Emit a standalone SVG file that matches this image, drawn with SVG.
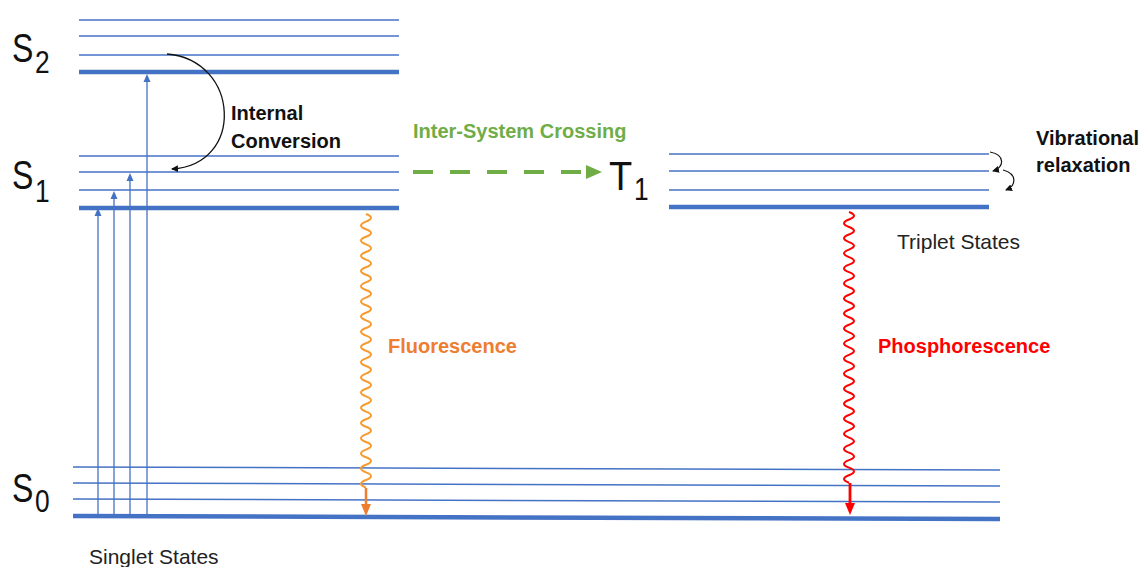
<svg xmlns="http://www.w3.org/2000/svg" width="1148" height="567" viewBox="0 0 1148 567">
<style>
.thin{stroke:#4472C4;stroke-width:1.5;fill:none}
.thick{stroke:#4472C4;stroke-width:4.5;fill:none}
.exc{stroke:#4472C4;stroke-width:1.3;fill:none}
.lbl{font-family:"Liberation Sans",Arial,sans-serif;font-weight:bold;font-size:20px}
.reg{font-family:"Liberation Sans",Arial,sans-serif;font-size:21px;fill:#222}
.big{font-family:"Liberation Sans",Arial,sans-serif;font-size:40px;fill:#111}
.sub{font-family:"Liberation Sans",Arial,sans-serif;font-size:31px;fill:#111}
</style>
<defs>
<marker id="blk" markerWidth="8" markerHeight="8" refX="6" refY="4" orient="auto" markerUnits="userSpaceOnUse">
<path d="M0,0.5 L7,4 L0,7.5 Z" fill="#111"/>
</marker>
</defs>
<rect width="1148" height="567" fill="#fff"/>
<g id="S2">
<line class="thin" x1="79" y1="20" x2="399" y2="20"/>
<line class="thin" x1="79" y1="36" x2="399" y2="36"/>
<line class="thin" x1="79" y1="55" x2="399" y2="55"/>
<line class="thick" x1="79" y1="72" x2="399" y2="72"/>
<text class="big" transform="translate(12,62) scale(0.8,1)">S</text><text class="sub" transform="translate(35,73) scale(0.85,1)">2</text>
</g>
<g id="S1">
<line class="thin" x1="79" y1="156" x2="399" y2="156"/>
<line class="thin" x1="79" y1="172" x2="399" y2="172"/>
<line class="thin" x1="79" y1="190" x2="399" y2="190"/>
<line class="thick" x1="79" y1="208" x2="399" y2="208"/>
<text class="big" transform="translate(12,189) scale(0.8,1)">S</text><text class="sub" transform="translate(35,202) scale(0.85,1)">1</text>
</g>
<g id="S0">
<line class="thin" x1="73" y1="467" x2="1000" y2="470"/>
<line class="thin" x1="73" y1="483" x2="1000" y2="486"/>
<line class="thin" x1="73" y1="499" x2="1000" y2="502"/>
<line class="thick" x1="73" y1="516" x2="1000" y2="519"/>
<text class="big" transform="translate(12,502) scale(0.8,1)">S</text><text class="sub" transform="translate(35,512) scale(0.85,1)">0</text>
<text class="reg" x="89" y="564">Singlet States</text>
</g>
<g id="T1">
<line class="thin" x1="669" y1="154" x2="989" y2="154"/>
<line class="thin" x1="669" y1="171" x2="989" y2="171"/>
<line class="thin" x1="669" y1="190" x2="989" y2="190"/>
<line class="thick" x1="669" y1="207" x2="989" y2="207"/>
<text class="big" transform="translate(609,190) scale(0.95,1)">T</text><text class="sub" transform="translate(634,200) scale(0.85,1)">1</text>
<text class="reg" x="897" y="249">Triplet States</text>
</g>
<g id="connectors">
<g id="excitation">
<line class="exc" x1="98" y1="516" x2="98" y2="214"/>
<polygon points="98,208 94.5,216 101.5,216" fill="#4472C4"/>
<line class="exc" x1="114" y1="516" x2="114" y2="197"/>
<polygon points="114,191 110.5,199 117.5,199" fill="#4472C4"/>
<line class="exc" x1="130" y1="516" x2="130" y2="179"/>
<polygon points="130,173 126.5,181 133.5,181" fill="#4472C4"/>
<line class="exc" x1="147" y1="516" x2="147" y2="80"/>
<polygon points="147,74 143.5,82 150.5,82" fill="#4472C4"/>
</g>
<g id="internal-conversion">
<path d="M167,54 C240,60 245,165 172,169" fill="none" stroke="#111" stroke-width="1.3" marker-end="url(#blk)"/>
<text class="lbl" x="231" y="120" fill="#111">Internal</text>
<text class="lbl" x="231" y="148" fill="#111">Conversion</text>
</g>
<g id="isc">
<line x1="413" y1="172" x2="590" y2="172" stroke="#70AD47" stroke-width="4" stroke-dasharray="20 17"/>
<polygon points="602,172 586,165 586,179" fill="#70AD47"/>
<text class="lbl" x="413" y="138" fill="#70AD47">Inter-System Crossing</text>
</g>
<g id="vibrational-relaxation">
<path d="M990,152 C1006,155 1004,168 993,171" fill="none" stroke="#111" stroke-width="1.2" marker-end="url(#blk)"/>
<path d="M1003,170 C1018,174 1016,186 1006,190" fill="none" stroke="#111" stroke-width="1.2" marker-end="url(#blk)"/>
<text class="lbl" x="1036" y="145" fill="#111">Vibrational</text>
<text class="lbl" x="1036" y="172" fill="#111">relaxation</text>
</g>
<g id="fluorescence">
<path d="M366,214 q10,3.8 0,7.6 t0,7.6 t0,7.6 t0,7.6 t0,7.6 t0,7.6 t0,7.6 t0,7.6 t0,7.6 t0,7.6 t0,7.6 t0,7.6 t0,7.6 t0,7.6 t0,7.6 t0,7.6 t0,7.6 t0,7.6 t0,7.6 t0,7.6 t0,7.6 t0,7.6 t0,7.6 t0,7.6 t0,7.6 t0,7.6 t0,7.6 t0,7.6 t0,7.6 t0,7.6 t0,7.6 t0,7.6 t0,7.6 t0,7.6 t0,7.6 t0,7.6" fill="none" stroke="#F79B2E" stroke-width="2"/>
<line x1="366" y1="488" x2="366" y2="506" stroke="#ED7D31" stroke-width="2.5"/>
<polygon points="366,516 361,504 371,504" fill="#ED7D31"/>
<text class="lbl" x="388" y="353" fill="#ED7D31">Fluorescence</text>
</g>
<g id="phosphorescence">
<path d="M849,212 q10,3.76 0,7.52 t0,7.52 t0,7.52 t0,7.52 t0,7.52 t0,7.52 t0,7.52 t0,7.52 t0,7.52 t0,7.52 t0,7.52 t0,7.52 t0,7.52 t0,7.52 t0,7.52 t0,7.52 t0,7.52 t0,7.52 t0,7.52 t0,7.52 t0,7.52 t0,7.52 t0,7.52 t0,7.52 t0,7.52 t0,7.52 t0,7.52 t0,7.52 t0,7.52 t0,7.52 t0,7.52 t0,7.52 t0,7.52 t0,7.52 t0,7.52 t0,7.52" fill="none" stroke="#FF0000" stroke-width="2"/>
<line x1="850" y1="483" x2="850" y2="505" stroke="#FF0000" stroke-width="2.8"/>
<polygon points="850,515 845,503 855,503" fill="#FF0000"/>
<text class="lbl" x="878" y="353" fill="#FF0000">Phosphorescence</text>
</g>
</g>
</svg>
